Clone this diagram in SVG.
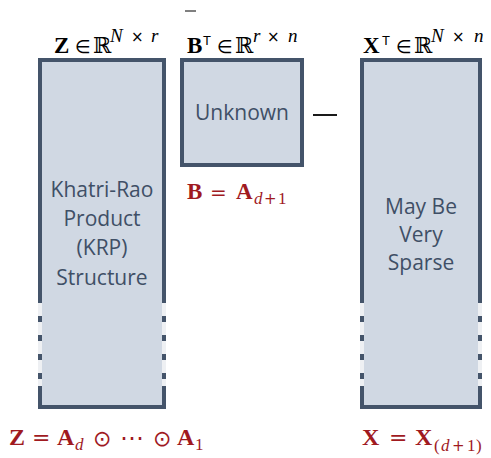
<svg xmlns="http://www.w3.org/2000/svg" width="491" height="458" viewBox="0 0 491 458">
  <style>
    .box { fill: #d0d8e3; stroke: #44546a; stroke-width: 4; }
    .fill { fill: #d0d8e3; }
    .edge { fill: none; stroke: #44546a; stroke-width: 4; }
    .dash { fill: none; stroke: #44546a; stroke-width: 4; stroke-dasharray: 6 13; }
    .gap { fill: none; stroke: #eef0f3; stroke-width: 4; }
    .lbl { font-family: "Open Sans", "Liberation Sans", sans-serif; font-size: 21px; fill: #3f4f66; text-anchor: middle; }
    .m { font-family: "Liberation Serif", "DejaVu Serif", serif; font-size: 23px; fill: #000; }
    .bb { font-weight: bold; }
    .it { font-style: italic; }
    .ds { font-family: "DejaVu Serif", serif; }
    .sym { font-family: "DejaVu Sans", sans-serif; }
    .tt { font-family: "Liberation Sans", sans-serif; font-size: 13px; }
    .red { fill: #a01a1f; }
  </style>

  <g id="node-Z">
    <rect class="fill" x="40" y="60" width="124" height="347"/>
    <path class="edge" d="M40,303 V60 H164 V303"/>
    <path class="gap" d="M40,303 V387 M164,303 V387"/>
    <path class="dash" d="M40,316 V387 M164,316 V387"/>
    <path class="edge" d="M40,386 V407 H164 V386"/>
    <text class="lbl" x="102" y="197">Khatri-Rao</text>
    <text class="lbl" x="102" y="226">Product</text>
    <text class="lbl" x="102" y="255">(KRP)</text>
    <text class="lbl" x="102" y="285">Structure</text>
    <text class="m" y="53"><tspan x="54" class="bb">Z</tspan><tspan x="75" class="sym" font-size="18">∈</tspan><tspan x="93" class="ds" font-size="22">ℝ</tspan><tspan x="110" y="42" class="it" font-size="19">N</tspan><tspan x="131" y="42" class="sym" font-size="15">×</tspan><tspan x="151" y="42" class="it" font-size="19">r</tspan></text>
  </g>

  <g id="node-B">
    <rect class="box" x="182" y="60" width="120" height="105"/>
    <text class="lbl" x="242" y="120">Unknown</text>
    <text class="m" y="53"><tspan x="187" class="bb">B</tspan><tspan x="203" y="45" class="tt">T</tspan><tspan x="217" y="53" class="sym" font-size="18">∈</tspan><tspan x="235" class="ds" font-size="22">ℝ</tspan><tspan x="253" y="42" class="it" font-size="19">r</tspan><tspan x="267" y="42" class="sym" font-size="15">×</tspan><tspan x="288" y="42" class="it" font-size="19">n</tspan></text>
  </g>

  <g id="node-X">
    <rect class="fill" x="362" y="60" width="118" height="347"/>
    <path class="edge" d="M362,303 V60 H480 V303"/>
    <path class="gap" d="M362,303 V387 M480,303 V387"/>
    <path class="dash" d="M362,316 V387 M480,316 V387"/>
    <path class="edge" d="M362,386 V407 H480 V386"/>
    <text class="lbl" x="421" y="214">May Be</text>
    <text class="lbl" x="421" y="242">Very</text>
    <text class="lbl" x="421" y="270">Sparse</text>
    <text class="m" y="53"><tspan x="363" class="bb">X</tspan><tspan x="382" y="45" class="tt">T</tspan><tspan x="396" y="53" class="sym" font-size="18">∈</tspan><tspan x="414" class="ds" font-size="22">ℝ</tspan><tspan x="431" y="42" class="it" font-size="19">N</tspan><tspan x="452" y="42" class="sym" font-size="15">×</tspan><tspan x="474" y="42" class="it" font-size="19">n</tspan></text>
  </g>

  <g id="connectors">
    <line x1="185" y1="11" x2="196" y2="11" stroke="#000" stroke-width="1"/>
    <line x1="313" y1="115" x2="337" y2="115" stroke="#000" stroke-width="1.8"/>
  </g>

  <g id="labels">
    <text class="m red" y="199"><tspan x="187" class="bb">B</tspan><tspan x="210" class="sym" font-size="20">=</tspan><tspan x="236" class="bb">A</tspan><tspan x="254" y="204" class="it" font-size="17">d</tspan><tspan x="264" y="204" class="sym" font-size="15">+</tspan><tspan x="278" y="204" font-size="17">1</tspan></text>
    <text class="m red" y="445"><tspan x="9" class="bb" font-size="24">Z</tspan><tspan x="32" class="sym" font-size="22">=</tspan><tspan x="57" class="bb" font-size="24">A</tspan><tspan x="75" y="450" class="it" font-size="17">d</tspan><tspan x="93" y="446" class="sym" font-size="22">⊙</tspan><tspan x="120" class="sym" font-size="24">⋯</tspan><tspan x="153" class="sym" font-size="22">⊙</tspan><tspan x="177" y="445" class="bb" font-size="24">A</tspan><tspan x="195" y="450" font-size="17">1</tspan></text>
    <text class="m red" y="445"><tspan x="362" class="bb" font-size="24">X</tspan><tspan x="389" class="sym" font-size="22">=</tspan><tspan x="415" class="bb" font-size="24">X</tspan><tspan x="434" y="451" font-size="17">(</tspan><tspan x="441" class="it" font-size="17">d</tspan><tspan x="452" class="sym" font-size="15">+</tspan><tspan x="467" font-size="17">1</tspan><tspan x="476" font-size="17">)</tspan></text>
  </g>
</svg>
